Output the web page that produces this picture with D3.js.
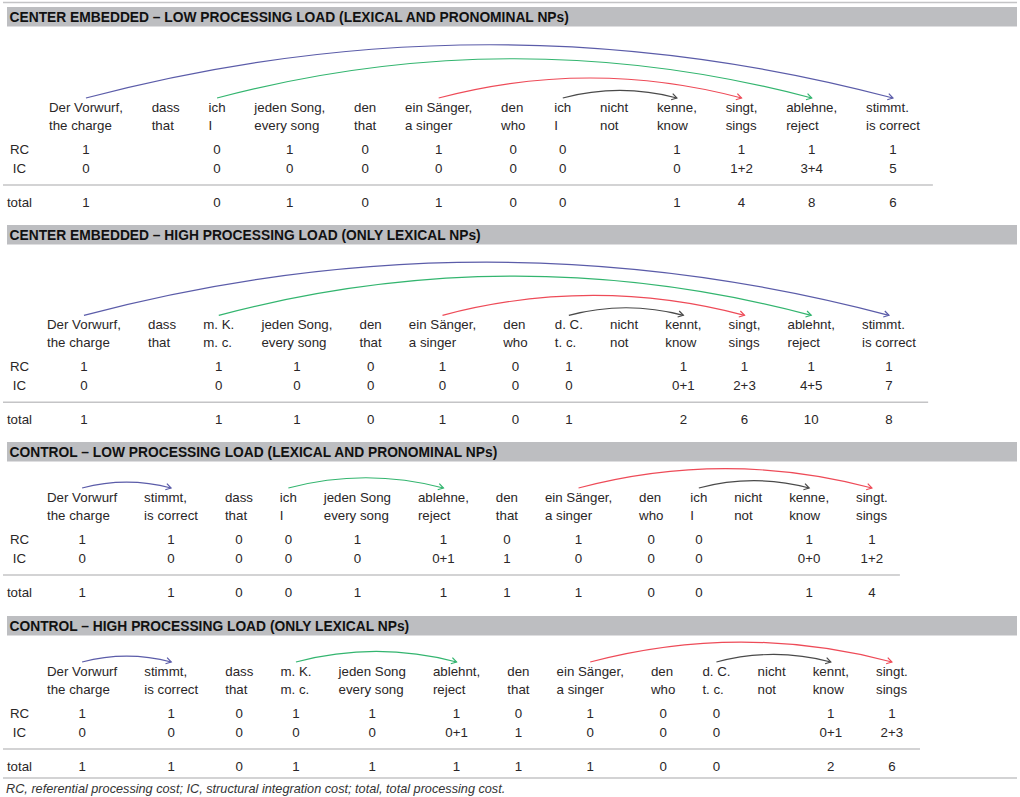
<!DOCTYPE html>
<html>
<head>
<meta charset="utf-8">
<script src="https://cdn.jsdelivr.net/npm/d3@7"></script>
<style>
  html, body { margin: 0; padding: 0; background: #fff; }
  svg { display: block; }
  text { font-family: "Liberation Sans", Arial, Helvetica, sans-serif; }
</style>
</head>
<body>
<svg id="chart" width="1020" height="797"></svg>
<script>
// ---------------- DATA ----------------
const sectionTitles = [
  "CENTER EMBEDDED – LOW PROCESSING LOAD (LEXICAL AND PRONOMINAL NPs)",
  "CENTER EMBEDDED – HIGH PROCESSING LOAD (ONLY LEXICAL NPs)",
  "CONTROL – LOW PROCESSING LOAD (LEXICAL AND PRONOMINAL NPs)",
  "CONTROL – HIGH PROCESSING LOAD (ONLY LEXICAL NPs)"
];
const rowLabels = ["RC", "IC", "total"];
const footnote = "RC, referential processing cost; IC, structural integration cost; total, total processing cost.";

// Section 1
const s1Words = ["Der Vorwurf,", "dass", "ich", "jeden Song,", "den", "ein Sänger,", "den", "ich", "nicht", "kenne,", "singt,", "ablehne,", "stimmt."];
const s1Gloss = ["the charge", "that", "I", "every song", "that", "a singer", "who", "I", "not", "know", "sings", "reject", "is correct"];
const s1RC    = ["1", "", "0", "1", "0", "1", "0", "0", "", "1", "1", "1", "1"];
const s1IC    = ["0", "", "0", "0", "0", "0", "0", "0", "", "0", "1+2", "3+4", "5"];
const s1Total = ["1", "", "0", "1", "0", "1", "0", "0", "", "1", "4", "8", "6"];
const s1Arcs  = [[0, 12, "blue"], [2, 11, "green"], [5, 10, "red"], [7, 9, "black"]];

// Section 2
const s2Words = ["Der Vorwurf,", "dass", "m. K.", "jeden Song,", "den", "ein Sänger,", "den", "d. C.", "nicht", "kennt,", "singt,", "ablehnt,", "stimmt."];
const s2Gloss = ["the charge", "that", "m. c.", "every song", "that", "a singer", "who", "t. c.", "not", "know", "sings", "reject", "is correct"];
const s2RC    = ["1", "", "1", "1", "0", "1", "0", "1", "", "1", "1", "1", "1"];
const s2IC    = ["0", "", "0", "0", "0", "0", "0", "0", "", "0+1", "2+3", "4+5", "7"];
const s2Total = ["1", "", "1", "1", "0", "1", "0", "1", "", "2", "6", "10", "8"];
const s2Arcs  = [[0, 12, "blue"], [2, 11, "green"], [5, 10, "red"], [7, 9, "black"]];

// Section 3
const s3Words = ["Der Vorwurf", "stimmt,", "dass", "ich", "jeden Song", "ablehne,", "den", "ein Sänger,", "den", "ich", "nicht", "kenne,", "singt."];
const s3Gloss = ["the charge", "is correct", "that", "I", "every song", "reject", "that", "a singer", "who", "I", "not", "know", "sings"];
const s3RC    = ["1", "1", "0", "0", "1", "1", "0", "1", "0", "0", "", "1", "1"];
const s3IC    = ["0", "0", "0", "0", "0", "0+1", "1", "0", "0", "0", "", "0+0", "1+2"];
const s3Total = ["1", "1", "0", "0", "1", "1", "1", "1", "0", "0", "", "1", "4"];
const s3Arcs  = [[0, 1, "blue"], [3, 5, "green"], [7, 12, "red"], [9, 11, "black"]];

// Section 4
const s4Words = ["Der Vorwurf", "stimmt,", "dass", "m. K.", "jeden Song", "ablehnt,", "den", "ein Sänger,", "den", "d. C.", "nicht", "kennt,", "singt."];
const s4Gloss = ["the charge", "is correct", "that", "m. c.", "every song", "reject", "that", "a singer", "who", "t. c.", "not", "know", "sings"];
const s4RC    = ["1", "1", "0", "1", "1", "1", "0", "1", "0", "0", "", "1", "1"];
const s4IC    = ["0", "0", "0", "0", "0", "0+1", "1", "0", "0", "0", "", "0+1", "2+3"];
const s4Total = ["1", "1", "0", "1", "1", "1", "1", "1", "0", "0", "", "2", "6"];
const s4Arcs  = [[0, 1, "blue"], [3, 5, "green"], [7, 12, "red"], [9, 11, "black"]];

// ---------------- LAYOUT / STYLE ----------------
const sections = [
  { title: sectionTitles[0], words: s1Words, gloss: s1Gloss, rc: s1RC, ic: s1IC, total: s1Total, arcs: s1Arcs, top: 7,   wordsY: 111.5, x0: 49, xLast: 866 },
  { title: sectionTitles[1], words: s2Words, gloss: s2Gloss, rc: s2RC, ic: s2IC, total: s2Total, arcs: s2Arcs, top: 225, wordsY: 328.8, x0: 47, xLast: 862 },
  { title: sectionTitles[2], words: s3Words, gloss: s3Gloss, rc: s3RC, ic: s3IC, total: s3Total, arcs: s3Arcs, top: 442, wordsY: 501.5, x0: 47, xLast: 856 },
  { title: sectionTitles[3], words: s4Words, gloss: s4Gloss, rc: s4RC, ic: s4IC, total: s4Total, arcs: s4Arcs, top: 616, wordsY: 675.5, x0: 47, xLast: 876 }
];
const arcColor = d3.scaleOrdinal()
  .domain(["blue", "green", "red", "black"])
  .range(["#5b5ca9", "#33b56f", "#ee4b58", "#4a4a4a"]);

const FONT = 13.3;
const textColor = "#2a2627";
const ruleColor = "#c4c4c6";

const svg = d3.select("#chart");

// measuring helper
const meas = svg.append("text").attr("font-size", FONT).attr("visibility", "hidden");
function tw(s) { meas.text(s); return s ? meas.node().getComputedTextLength() : 0; }

// top rule
svg.append("line").attr("x1", 3).attr("x2", 1017).attr("y1", 2.5).attr("y2", 2.5)
  .attr("stroke", ruleColor).attr("stroke-width", 1.5);

sections.forEach(sec => {
  const g = svg.append("g");
  const n = sec.words.length;
  const idx = d3.range(n);
  const widths = idx.map(i => Math.max(tw(sec.words[i]), tw(sec.gloss[i])));
  const sumW = d3.sum(widths.slice(0, n - 1));
  const gap = (sec.xLast - sec.x0 - sumW) / (n - 1);
  const lefts = [];
  let acc = sec.x0;
  idx.forEach(i => { lefts.push(acc); acc += widths[i] + gap; });
  const xLeft = d3.scaleOrdinal().domain(idx).range(lefts);
  const xMid = d3.scaleOrdinal().domain(idx).range(idx.map(i => lefts[i] + widths[i] / 2));
  const rightEnd = lefts[n - 1] + widths[n - 1] + gap * 0.45;

  // header bar
  g.append("rect").attr("x", 7).attr("y", sec.top).attr("width", 1010).attr("height", 19.5)
    .attr("fill", "#bdbec1");
  g.append("text").attr("x", 9.5).attr("y", sec.top + 15)
    .attr("font-size", 13.8).attr("font-weight", "bold").attr("fill", "#111")
    .text(sec.title);

  const y0 = sec.wordsY;
  const rows = { gloss: y0 + 18.5, rc: y0 + 42.5, ic: y0 + 61, rule: y0 + 73.5, total: y0 + 95.5 };

  // words and glosses
  g.selectAll(".w").data(idx).join("text")
    .attr("x", i => xLeft(i)).attr("y", y0)
    .attr("font-size", FONT).attr("fill", textColor)
    .text(i => sec.words[i]);
  g.selectAll(".gl").data(idx).join("text")
    .attr("x", i => xLeft(i)).attr("y", rows.gloss)
    .attr("font-size", FONT).attr("fill", textColor)
    .text(i => sec.gloss[i]);

  // row labels
  [["rc", rowLabels[0]], ["ic", rowLabels[1]], ["total", rowLabels[2]]].forEach(([k, lab]) => {
    g.append("text").attr("x", 19.5).attr("y", rows[k]).attr("text-anchor", "middle")
      .attr("font-size", FONT).attr("fill", textColor).text(lab);
  });

  // values
  [["rc", sec.rc], ["ic", sec.ic], ["total", sec.total]].forEach(([k, arr]) => {
    g.append("g").selectAll("text").data(idx.filter(i => arr[i] !== "")).join("text")
      .attr("x", i => xMid(i)).attr("y", rows[k]).attr("text-anchor", "middle")
      .attr("font-size", FONT).attr("fill", textColor)
      .text(i => arr[i]);
  });

  // rule under IC
  g.append("line").attr("x1", 3).attr("x2", rightEnd).attr("y1", rows.rule).attr("y2", rows.rule)
    .attr("stroke", ruleColor).attr("stroke-width", 1.5);

  // arcs
  const ay = y0 - 13.5;
  sec.arcs.forEach(([a, b, c]) => {
    const x1 = xMid(a), x2 = xMid(b);
    const span = x2 - x1;
    const h = 0.066 * span;
    const cx = (x1 + x2) / 2, cy = ay - 2 * h;
    const col = arcColor(c);
    const p = d3.path();
    p.moveTo(x1, ay);
    p.quadraticCurveTo(cx, cy, x2, ay);
    g.append("path").attr("d", p.toString()).attr("fill", "none")
      .attr("stroke", col).attr("stroke-width", 1.2);
    // arrow head (open chevron)
    const ang = Math.atan2(ay - cy, x2 - cx);
    const L = 6, spread = 0.55;
    const hp = d3.path();
    hp.moveTo(x2 - L * Math.cos(ang - spread), ay - L * Math.sin(ang - spread));
    hp.lineTo(x2, ay);
    hp.lineTo(x2 - L * Math.cos(ang + spread), ay - L * Math.sin(ang + spread));
    g.append("path").attr("d", hp.toString()).attr("fill", "none")
      .attr("stroke", col).attr("stroke-width", 1.2);
  });
});

// bottom rule and footnote
svg.append("line").attr("x1", 3).attr("x2", 1017).attr("y1", 778).attr("y2", 778)
  .attr("stroke", ruleColor).attr("stroke-width", 1.5);
svg.append("text").attr("x", 6).attr("y", 792.5)
  .attr("font-size", 12.7).attr("font-style", "italic").attr("fill", "#333")
  .text(footnote);

meas.remove();
</script>
</body>
</html>
